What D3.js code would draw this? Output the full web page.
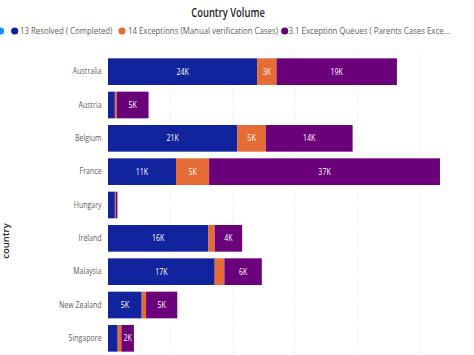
<!DOCTYPE html>
<html>
<head>
<meta charset="utf-8">
<script src="https://cdn.jsdelivr.net/npm/d3@7"></script>
<style>
  html, body { margin: 0; padding: 0; background: #fff; }
  svg { display: block; font-family: "Open Sans", "Noto Sans", sans-serif; }
</style>
</head>
<body>
<svg id="chart" width="474" height="355"></svg>
<script>
const countries = ["Australia", "Austria", "Belgium", "France", "Hungary", "Ireland", "Malaysia", "New Zealand", "Singapore"];
const resolved = [23.9, 1.1, 20.7, 10.9, 1.1, 16.1, 17.1, 5.4, 1.55];
const exceptions = [3.1, 0.3, 4.6, 5.3, 0.15, 1.0, 1.55, 0.7, 0.6];
const queues = [19.3, 5.1, 13.9, 37.0, 0.25, 4.4, 6.0, 5.0, 2.0];
const seriesNames = ["13 Resolved ( Completed)", "14 Exceptions (Manual verification Cases)", "3.1 Exception Queues ( Parents Cases Exce..."];
const chartTitle = "Country Volume";
const yTitle = "country";

const colors = ["#12239E", "#E66C37", "#6B007B"];
const hiddenColor = "#118DFF";
const SX = 0.8;

const svg = d3.select("#chart");
const plotLeft = 108, plotTop = 55, plotBottom = 355;

const x = d3.scaleLinear().domain([0, 58]).range([plotLeft, plotLeft + 58 * 6.24]);
const y = d3.scaleBand().domain(countries).range([plotTop, plotBottom]).paddingInner(0.2).paddingOuter(0.1);

// title
svg.append("text")
  .attr("transform", `translate(228,17) scale(${SX},1)`)
  .attr("text-anchor", "middle")
  .attr("font-size", 11.8)
  .attr("font-weight", 600)
  .attr("fill", "#252423")
  .text(chartTitle);

// legend
const legendY = 31;
svg.append("circle").attr("cx", 0.5).attr("cy", legendY).attr("r", 3.6).attr("fill", hiddenColor);
const legendPos = [[14.7, 20], [122, 128], [284.7, 288.5]];
seriesNames.forEach((name, i) => {
  svg.append("circle").attr("cx", legendPos[i][0]).attr("cy", legendY).attr("r", 3.6).attr("fill", colors[i]);
  svg.append("text")
    .attr("transform", `translate(${legendPos[i][1]},${legendY}) scale(${SX},1)`)
    .attr("dy", "0.35em")
    .attr("font-size", 9.8)
    .attr("fill", "#605E5C")
    .text(name);
});

// gridlines
svg.append("g").selectAll("line")
  .data(x.ticks(6).filter(d => d > 0))
  .join("line")
  .attr("x1", d => x(d)).attr("x2", d => x(d))
  .attr("y1", plotTop).attr("y2", plotBottom)
  .attr("stroke", "#e6e6e6")
  .attr("stroke-width", 1)
  .attr("stroke-dasharray", "1,2");

// y axis
const yAxis = svg.append("g")
  .attr("transform", `translate(${plotLeft},0)`)
  .call(d3.axisLeft(y).tickSize(0).tickPadding(8));
yAxis.select(".domain").remove();
yAxis.selectAll("text")
  .attr("font-family", "'Open Sans', sans-serif")
  .attr("font-size", 8.8)
  .attr("fill", "#605E5C")
  .attr("transform", `scale(${SX},1)`);

// y title
svg.append("text")
  .attr("transform", "translate(9,241) rotate(-90)")
  .attr("text-anchor", "middle")
  .attr("font-size", 9.5)
  .attr("font-weight", 600)
  .attr("fill", "#252423")
  .text(yTitle);

// stacked bars
const rows = countries.map((c, i) => ({country: c, values: [resolved[i], exceptions[i], queues[i]]}));
const segs = [];
rows.forEach(r => {
  let acc = 0;
  r.values.forEach((v, k) => {
    segs.push({country: r.country, k, v, x0: acc, x1: acc + v});
    acc += v;
  });
});

svg.append("g").selectAll("rect")
  .data(segs)
  .join("rect")
  .attr("x", d => x(d.x0))
  .attr("y", d => y(d.country))
  .attr("width", d => x(d.x1) - x(d.x0))
  .attr("height", y.bandwidth())
  .attr("fill", d => colors[d.k]);

// data labels
const lbl = svg.append("g").selectAll("text")
  .data(segs)
  .join("text")
  .attr("transform", d => `translate(${(x(d.x0) + x(d.x1)) / 2},${y(d.country) + y.bandwidth() / 2}) scale(${SX},1)`)
  .attr("text-anchor", "middle")
  .attr("dy", "0.35em")
  .attr("font-size", 8.8)
  .attr("fill", "#ffffff")
  .text(d => Math.round(d.v) + "K");
lbl.each(function(d) {
  const w = this.getComputedTextLength() * SX;
  if (w + 2 > x(d.x1) - x(d.x0)) d3.select(this).remove();
});
</script>
</body>
</html>
